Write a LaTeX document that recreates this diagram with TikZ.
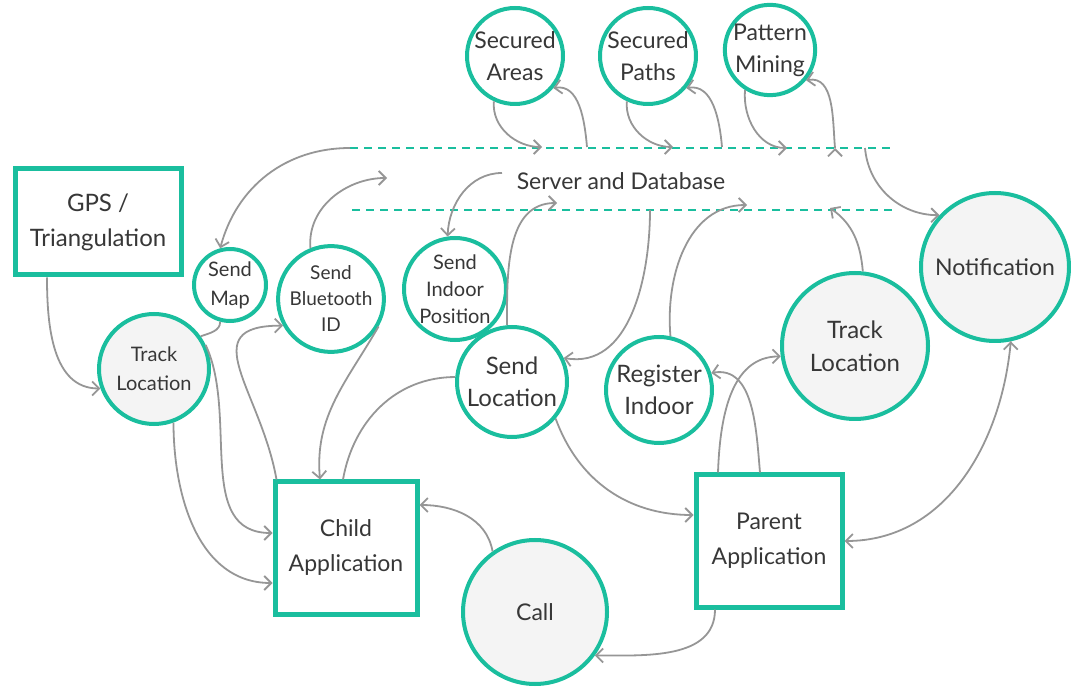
\documentclass[tikz,border=0pt]{standalone}
\usepackage{fontspec}
\setmainfont{Lato}
\usetikzlibrary{arrows.meta}

\definecolor{mint}{RGB}{26,190,158}
\definecolor{wire}{RGB}{150,150,150}
\definecolor{ink}{RGB}{55,55,55}
\definecolor{fog}{RGB}{244,244,244}

\begin{document}
\begin{tikzpicture}[x=0.5pt,y=0.5pt,>={Straight Barb[length=3.5pt,width=7pt]},
  txt/.style={text=ink,align=center,font=\fontsize{11.5}{16}\selectfont},
  small/.style={font=\fontsize{10}{14.5}\selectfont},
  box/.style={txt,rectangle,draw=mint,line width=2.5pt,fill=white},
  bubble/.style={txt,circle,draw=mint,line width=2pt,fill=white,inner sep=0pt},
  grey/.style={fill=fog},
  flow/.style={->,draw=wire,line width=0.9pt},
  dbline/.style={draw=mint,line width=1pt,dash pattern=on 4pt off 3pt}]

  \useasboundingbox (0,0) rectangle (1071,686);

  % boxes
  \node[box,minimum width=83pt,minimum height=53pt,font=\fontsize{12}{17.5}\selectfont] (gps) at (98,464) {GPS /\\Triangulation};
  \node[box,minimum width=71pt,minimum height=66pt,font=\fontsize{11.5}{17.5}\selectfont] (child) at (346,138) {Child\\Application};
  \node[box,minimum width=73pt,minimum height=66pt,font=\fontsize{11.5}{17.5}\selectfont] (parent) at (769,145) {Parent\\Application};

  % bubbles
  \node[bubble,small,grey,minimum size=55pt] (trackC) at (154,317) {Track\\Location};
  \node[bubble,small,minimum size=36pt] (sendmap) at (230,401) {Send\\Map};
  \node[bubble,font=\fontsize{9.5}{13}\selectfont,minimum size=51pt] (sendbt) at (331,387) {Send\\Bluetooth\\ID};
  \node[bubble,font=\fontsize{10}{13.5}\selectfont,minimum size=51pt] (sendindoor) at (455,397) {Send\\Indoor\\Position};
  \node[bubble,minimum size=48pt] (secareas) at (515,630) {Secured\\Areas};
  \node[bubble,minimum size=48pt] (secpaths) at (648,630) {Secured\\Paths};
  \node[bubble,minimum size=45pt] (pattern) at (770,636) {Pattern\\Mining};
  \node[bubble,font=\fontsize{12}{16}\selectfont,minimum size=55pt] (sendloc) at (512,304) {Send\\Location};
  \node[bubble,font=\fontsize{12}{16}\selectfont,minimum size=53pt] (register) at (659,296) {Register\\Indoor};
  \node[bubble,grey,font=\fontsize{12}{16.5}\selectfont,minimum size=73pt] (trackP) at (855,340) {Track\\Location};
  \node[bubble,grey,minimum size=74pt] (notif) at (995,419) {Notification};
  \node[bubble,grey,minimum size=72pt] (call) at (535,74) {Call};

  % server band
  \node[txt] (server) at (621,505) {Server and Database};
  \coordinate (dbTL) at (350,538);
  \coordinate (dbTR) at (890,538);
  \coordinate (dbBL) at (352,476);
  \coordinate (dbBR) at (893,476);
  \draw[dbline] (dbTL) -- (dbTR);
  \draw[dbline] (dbBL) -- (dbBR);

  \coordinate (areasIn) at (542,539);
  \coordinate (areasOut) at (587,539);
  \coordinate (pathsIn) at (673,539);
  \coordinate (pathsOut) at (722,539);
  \coordinate (miningIn) at (787,538);
  \coordinate (miningOut) at (835,538);
  \coordinate (notifOut) at (865,538);
  \coordinate (btIn) at (387,508);
  \coordinate (indoorOut) at (502,513);
  \coordinate (locIn) at (557,483);
  \coordinate (locOut) at (650,476);
  \coordinate (regIn) at (747,481);
  \coordinate (trackIn) at (830,478);

  \path[flow]
    ([xshift=-25.5pt]gps.south) edge[out=-90,in=180] (trackC.200)
    (trackC.-70) edge[out=-90,in=180] ([yshift=-17.5pt]child.west)
    (sendmap.-105) edge[-,out=-90,in=20] (trackC.35)
    (trackC.25) edge[out=-65,in=180] ([yshift=7.5pt]child.west)
    ([xshift=2pt]child.north west) edge[out=100,in=180,looseness=1.5] (sendbt.209)
    (sendbt.-30) edge[out=-120,in=95] ([xshift=-13pt]child.north)
    ([xshift=-1.5pt]child.north) edge[-,out=80,in=180] (sendloc.175)
    (call.125) edge[out=100,in=0] ([yshift=21.5pt]child.east)
    (sendloc.-40) edge[out=-70,in=180] ([yshift=13pt]parent.west)
    ([xshift=-27pt]parent.south) edge[out=-90,in=0] (call.-36)
    ([xshift=-4.5pt]parent.north) edge[out=95,in=10] (register.18)
    ([xshift=-25.5pt]parent.north) edge[out=88,in=180] (trackP.188)
    (notif.-78) edge[out=-95,in=0] (parent.east);

  % to and from the server
  \path[flow]
    (dbTL) edge[out=180,in=75] (sendmap.105)
    (sendbt.112) edge[out=95,in=180] (btIn)
    (indoorOut) edge[out=180,in=88] (sendindoor.98)
    (sendloc.95) edge[out=90,in=180] (locIn)
    (locOut) edge[out=-90,in=-10] (sendloc.25)
    (register.78) edge[out=95,in=180] (regIn)
    (trackP.84) edge[out=95,in=-35] (trackIn)
    (notifOut) edge[out=-85,in=180] (notif.137)
    (secareas.-115) edge[out=-95,in=180] (areasIn)
    (areasOut) edge[out=95,in=10] (secareas.-40)
    (secpaths.-115) edge[out=-95,in=180] (pathsIn)
    (pathsOut) edge[out=95,in=10] (secpaths.-40)
    (pattern.-122) edge[out=-95,in=180] (miningIn)
    (miningOut) edge[out=95,in=10] (pattern.-40);

\end{tikzpicture}
\end{document}
